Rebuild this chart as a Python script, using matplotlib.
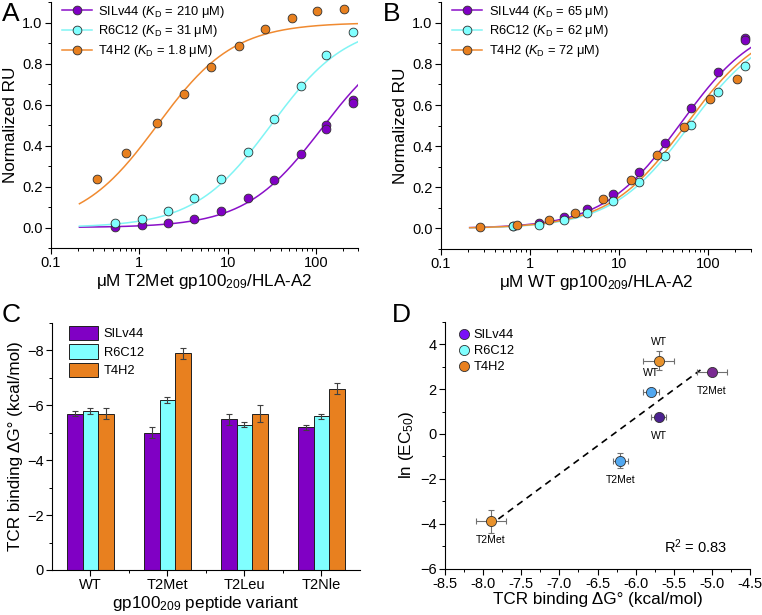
import numpy as np
import matplotlib
matplotlib.use('Agg')
from matplotlib import pyplot as plt
from matplotlib.lines import Line2D
from matplotlib.patches import Patch
from matplotlib.ticker import LogLocator, MultipleLocator, FixedLocator, NullFormatter

plt.rcParams['font.family'] = ['Liberation Sans', 'DejaVu Sans']
plt.rcParams['mathtext.fontset'] = 'custom'
plt.rcParams['mathtext.rm'] = 'Liberation Sans'
plt.rcParams['mathtext.it'] = 'Liberation Sans:italic'
plt.rcParams['axes.linewidth'] = 0.8

tcrs = ['SILv44', 'R6C12', 'T4H2']
colors = ['#8000c4', '#80ffff', '#e8801f']
line_colors = ['#8a10c8', '#80f4f4', '#f08a30']

# panel A: T2Met titration (conc in uM, normalized RU)
a_kd_label = ['210', '31', '1.8']
a_conc = [
    [0.53, 1.06, 2.1, 4.2, 8.4, 16.9, 33.8, 67, 131, 131, 262, 262],
    [0.53, 1.06, 2.1, 4.2, 8.4, 16.9, 33.8, 67, 131, 262],
    [0.33, 0.71, 1.58, 3.24, 6.55, 13.3, 26.7, 54, 104, 210],
]
a_ru = [
    [0.005, 0.011, 0.023, 0.044, 0.081, 0.142, 0.231, 0.357, 0.499, 0.481, 0.624, 0.607],
    [0.023, 0.042, 0.081, 0.142, 0.239, 0.370, 0.530, 0.691, 0.842, 0.952],
    [0.236, 0.363, 0.509, 0.651, 0.782, 0.887, 0.966, 1.021, 1.057, 1.068],
]
# fitted one-site binding curves (K, Bmax) as drawn
a_fit_k = [116, 31, 1.6]
a_fit_bmax = [0.965, 1.0, 1.0]

# panel B: WT titration
b_kd_label = ['65', '62', '72']
b_conc = [
    [0.64, 1.27, 2.37, 4.37, 8.55, 16.7, 32.4, 63.5, 128.5, 256, 256],
    [0.64, 1.27, 2.37, 4.37, 8.55, 16.7, 32.4, 63.5, 128.5, 256],
    [0.276, 0.72, 1.61, 3.2, 6.6, 13.5, 26.4, 52.6, 104.5, 208],
]
b_ru = [
    [0.012, 0.029, 0.055, 0.097, 0.170, 0.275, 0.414, 0.584, 0.761, 0.925, 0.915],
    [0.010, 0.018, 0.039, 0.074, 0.134, 0.227, 0.353, 0.502, 0.663, 0.790],
    [0.008, 0.018, 0.040, 0.076, 0.141, 0.235, 0.356, 0.494, 0.628, 0.728],
]
b_fit_k = [49, 61, 56]
b_fit_bmax = [1.023, 0.998, 1.009]

# panel C: binding free energy per peptide variant
variants = ['WT', 'T2Met', 'T2Leu', 'T2Nle']
dg = [
    [-5.7, -5.0, -5.5, -5.2],
    [-5.8, -6.2, -5.3, -5.6],
    [-5.7, -7.9, -5.7, -6.6],
]
dg_err = [
    [0.1, 0.2, 0.2, 0.1],
    [0.1, 0.1, 0.1, 0.1],
    [0.2, 0.2, 0.3, 0.2],
]

# panel D: ln(EC50) vs dG
d_tcr = ['SILv44', 'SILv44', 'R6C12', 'R6C12', 'T4H2', 'T4H2']
d_pep = ['WT', 'T2Met', 'WT', 'T2Met', 'WT', 'T2Met']
d_dg = [-5.7, -5.0, -5.8, -6.2, -5.7, -7.9]
d_dg_err = [0.1, 0.2, 0.1, 0.1, 0.2, 0.2]
d_ln = [0.74, 2.77, 1.89, -1.19, 3.26, -3.89]
d_ln_err = [0.12, 0.12, 0.12, 0.33, 0.42, 0.5]
d_colors = ['#4c2290', '#7a2a92', '#52a8f0', '#52a8f0', '#e8922c', '#e8922c']
d_label_above = [False, False, True, False, True, False]
d_legend_colors = ['#7a10f8', '#80ffff', '#e8801f']

fig = plt.figure(figsize=(7.62, 6.15), dpi=100)
axA = fig.add_axes([0.0669, 0.5967, 0.403, 0.400])
axB = fig.add_axes([0.5787, 0.5950, 0.4068, 0.4016])
axC = fig.add_axes([0.0682, 0.0732, 0.4042, 0.4016])
axD = fig.add_axes([0.5840, 0.0753, 0.4003, 0.4016])

TICK = 10.5
LAB = 12.3


def style(ax):
    for s in ('top', 'right'):
        ax.spines[s].set_visible(False)
    ax.tick_params(which='major', direction='out', length=4, width=0.8, labelsize=TICK, pad=2)
    ax.tick_params(which='minor', direction='out', length=2.2, width=0.7)


def titration(ax, conc, ru, fk, fb, kds, xlabel):
    xx = np.logspace(np.log10(0.21), np.log10(300), 200)
    handles = []
    for i in range(3):
        ax.plot(xx, fb[i] * xx / (fk[i] + xx), color=line_colors[i], lw=1.1, zorder=2)
        ax.plot(conc[i], ru[i], 'o', ms=6.3, mfc=colors[i], mec='#303030', mew=0.6, zorder=3)
        handles.append(Line2D([], [], color=line_colors[i], lw=1.1, marker='o', ms=6.3,
                              mfc=colors[i], mec='#303030', mew=0.6,
                              label=tcrs[i] + r' ($K_{\mathrm{D}}$ = ' + kds[i] + ' μM)'))
    ax.set_xscale('log')
    ax.set_xlim(0.1, 300)
    ax.set_ylim(-0.1, 1.1)
    ax.xaxis.set_major_locator(FixedLocator([0.1, 1, 10, 100]))
    ax.set_xticklabels(['0.1', '1', '10', '100'])
    ax.xaxis.set_minor_locator(LogLocator(base=10, subs=np.arange(2, 10), numticks=20))
    ax.xaxis.set_minor_formatter(NullFormatter())
    ax.yaxis.set_major_locator(FixedLocator(np.arange(0, 1.01, 0.2)))
    ax.yaxis.set_major_formatter(plt.FuncFormatter(lambda v, p: f'{v:.1f}'))
    ax.yaxis.set_minor_locator(MultipleLocator(0.1))
    ax.set_xlabel(xlabel, fontsize=LAB, labelpad=1)
    ax.set_ylabel('Normalized RU', fontsize=LAB, labelpad=3)
    ax.legend(handles=handles, loc='upper left', bbox_to_anchor=(0.02, 1.015), frameon=False,
              fontsize=9.3, handlelength=2.3, handletextpad=0.5, labelspacing=0.3, borderaxespad=0)
    style(ax)


titration(axA, a_conc, a_ru, a_fit_k, a_fit_bmax, a_kd_label, r'μM T2Met gp100$_{209}$/HLA-A2')
titration(axB, b_conc, b_ru, b_fit_k, b_fit_bmax, b_kd_label, r'μM WT gp100$_{209}$/HLA-A2')

# C
x = np.arange(1, len(variants) + 1)
w = 0.2
for i in range(3):
    axC.bar(x + (i - 1) * w, dg[i], w, color=colors[i], edgecolor='#202020', lw=0.7, zorder=2)
    axC.errorbar(x + (i - 1) * w, dg[i], yerr=dg_err[i], fmt='none', ecolor='#404040',
                 elinewidth=0.8, capsize=2.5, capthick=0.8, zorder=3)
axC.set_xlim(0.5, 4.5)
axC.set_ylim(0, -9)
axC.set_xticks(x)
axC.set_xticklabels(variants)
axC.xaxis.set_minor_locator(FixedLocator(np.arange(1.5, 4.5, 1)))
axC.yaxis.set_major_locator(FixedLocator([0, -2, -4, -6, -8]))
axC.yaxis.set_minor_locator(MultipleLocator(1))
axC.set_xlabel(r'gp100$_{209}$ peptide variant', fontsize=LAB, labelpad=1)
axC.set_ylabel('TCR binding ΔG° (kcal/mol)', fontsize=LAB, labelpad=3)
axC.legend(handles=[Patch(fc=colors[i], ec='#202020', lw=0.7, label=tcrs[i]) for i in range(3)],
           loc='upper left', bbox_to_anchor=(0.04, 1.01), frameon=False, fontsize=9.3,
           handlelength=2.2, handleheight=1.35, handletextpad=0.45, labelspacing=0.3, borderaxespad=0)
style(axC)

# D
for i in range(len(d_dg)):
    axD.errorbar(d_dg[i], d_ln[i], xerr=d_dg_err[i], yerr=d_ln_err[i], fmt='none',
                 ecolor='#707070', elinewidth=0.8, capsize=2.5, capthick=0.8, zorder=2)
    axD.plot(d_dg[i], d_ln[i], 'o', ms=7.3, mfc=d_colors[i], mec='#303030', mew=0.6, zorder=3)
    off = 10 if d_label_above[i] else -10
    axD.annotate(d_pep[i], (d_dg[i], d_ln[i]), xytext=(0, off), textcoords='offset points',
                 ha='center', va='bottom' if d_label_above[i] else 'top', fontsize=7.5)
slope, icpt = np.polyfit(d_dg, d_ln, 1)
r2 = np.corrcoef(d_dg, d_ln)[0, 1] ** 2
xl = np.array([-7.8, -5.15])
axD.plot(xl, slope * xl + icpt, '--', color='black', lw=1.2, dashes=(4, 3), zorder=1)
axD.text(-4.8, -5.0, f'R$^2$ = {r2:.2f}', ha='right', va='center', fontsize=10.5)
axD.set_xlim(-8.5, -4.5)
axD.set_ylim(-6, 5)
axD.xaxis.set_major_locator(MultipleLocator(0.5))
axD.xaxis.set_major_formatter(plt.FuncFormatter(lambda v, p: f'{v:.1f}'))
axD.xaxis.set_minor_locator(MultipleLocator(0.25))
axD.yaxis.set_major_locator(MultipleLocator(2))
axD.yaxis.set_minor_locator(MultipleLocator(1))
axD.set_xlabel('TCR binding ΔG° (kcal/mol)', fontsize=LAB, labelpad=1)
axD.set_ylabel(r'ln (EC$_{50}$)', fontsize=LAB, labelpad=3)
axD.legend(handles=[Line2D([], [], ls='none', marker='o', ms=7.3, mfc=d_legend_colors[i],
                           mec='#303030', mew=0.6, label=tcrs[i]) for i in range(3)],
           loc='upper left', bbox_to_anchor=(0.03, 0.99), frameon=False, fontsize=9.3,
           handlelength=0.8, handletextpad=0.3, labelspacing=0.3, borderaxespad=0)
style(axD)

for lab, (px, py) in zip('ABCD', [(2, 2), (383, 2), (2, 303), (392, 303)]):
    fig.text(px / 762, 1 - py / 615, lab, fontsize=19, ha='left', va='top')

fig.savefig('out.png', dpi=100)
